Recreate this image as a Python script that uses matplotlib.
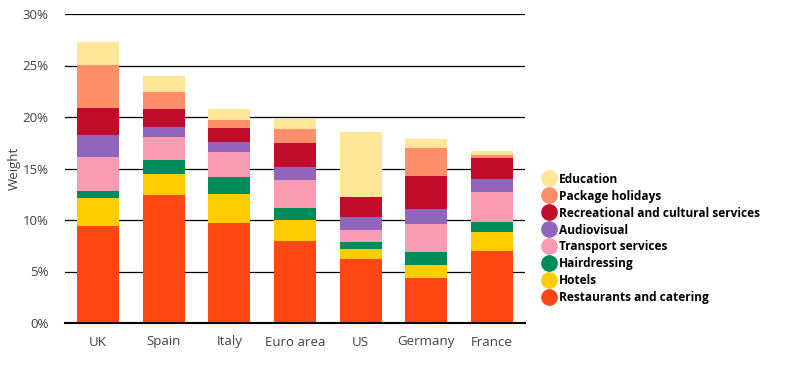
import matplotlib.pyplot as plt
import numpy as np
from matplotlib.lines import Line2D

countries = ["UK", "Spain", "Italy", "Euro area", "US", "Germany", "France"]

# weights in %, bottom to top
restaurants = [9.4, 12.4, 9.7, 8.0, 6.2, 4.4, 7.0]
hotels = [2.7, 2.1, 2.85, 2.0, 0.95, 1.2, 1.85]
hairdressing = [0.75, 1.35, 1.6, 1.2, 0.7, 1.25, 0.95]
transport = [3.3, 2.25, 2.45, 2.7, 1.2, 2.8, 2.95]
audiovisual = [2.1, 0.9, 0.95, 1.2, 1.25, 1.45, 1.25]
recreational = [2.6, 1.75, 1.35, 2.35, 1.95, 3.15, 2.05]
package = [4.2, 1.65, 0.85, 1.4, 0.0, 2.7, 0.25]
education = [2.25, 1.55, 1.05, 0.95, 6.25, 0.95, 0.4]

series = [
    ("Restaurants and catering", restaurants, "#FF4713"),
    ("Hotels", hotels, "#FFCC00"),
    ("Hairdressing", hairdressing, "#008C5A"),
    ("Transport services", transport, "#F99BB3"),
    ("Audiovisual", audiovisual, "#9165BB"),
    ("Recreational and cultural services", recreational, "#C00C2A"),
    ("Package holidays", package, "#FF8F6B"),
    ("Education", education, "#FFE699"),
]

plt.rcParams['font.family'] = ['Open Sans', 'DejaVu Sans']

fig = plt.figure(figsize=(8, 3.65), dpi=100)
ax = fig.add_axes([65 / 800, 1 - 323 / 365, 460 / 800, 309 / 365])

x = np.arange(len(countries))
bottom = np.zeros(len(countries))
for name, vals, col in series:
    ax.bar(x, vals, 0.64, bottom=bottom, color=col, zorder=3)
    bottom += np.array(vals)

ax.set_xlim(-0.5, len(countries) - 0.5)
ax.set_ylim(0, 30)
ax.set_yticks(np.arange(0, 31, 5))
ax.set_yticklabels([f"{v}%" for v in range(0, 31, 5)], color="#404040")
ax.set_xticks(x, countries, color="#404040")
ax.yaxis.grid(True, color="black", linewidth=0.9, zorder=0)
ax.tick_params(axis="y", length=0, pad=12, labelsize=9.5)
ax.tick_params(axis="x", length=0, pad=9, labelsize=9.5)
for s in ["top", "right", "left"]:
    ax.spines[s].set_visible(False)
ax.spines["bottom"].set_linewidth(1.5)
ax.spines["bottom"].set_zorder(4)
ax.set_ylabel("Weight", fontsize=9.5, color="#404040")
ax.yaxis.set_label_coords(-0.097, 0.5)

handles = [Line2D([], [], marker="o", linestyle="", markersize=11,
                  markerfacecolor=col, markeredgecolor=col)
           for name, vals, col in series[::-1]]
labels = [name for name, vals, col in series[::-1]]
fig.legend(handles, labels, loc="upper left", bbox_to_anchor=(0.667, 0.54),
           frameon=False, prop={"weight": "bold", "size": 8.6},
           handletextpad=0.0, labelspacing=0.33, handlelength=1.7,
           borderaxespad=0)

fig.savefig("out.png", dpi=100)
